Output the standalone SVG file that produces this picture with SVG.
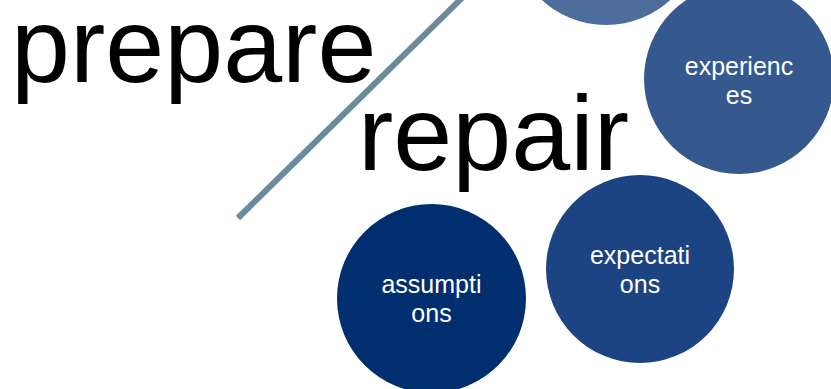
<svg xmlns="http://www.w3.org/2000/svg" width="831" height="389" viewBox="0 0 831 389">
<style>
.big{font-family:"Liberation Sans",Arial,sans-serif;font-size:106px;fill:#000}
.lbl{font-family:"Liberation Sans",Arial,sans-serif;font-size:25px;fill:#ffffff;text-anchor:middle}
</style>
<rect width="831" height="389" fill="#ffffff"/>
<g id="title-prepare"><text class="big" x="11" y="82">prepare</text></g>
<g id="title-repair"><text class="big" x="358" y="170">repair</text></g>
<g id="connectors"><line x1="238" y1="218" x2="464" y2="-4" stroke="#6a8b9c" stroke-width="6"/></g>
<g id="node-top"><circle cx="606" cy="-70" r="95" fill="#4d6d9c"/></g>
<g id="node-experiences"><circle cx="739" cy="79" r="95" fill="#35598f"/><text class="lbl" x="739" y="75">experienc</text><text class="lbl" x="739" y="104">es</text></g>
<g id="node-expectations"><circle cx="640" cy="269" r="94" fill="#1c4482"/><text class="lbl" x="640" y="264">expectati</text><text class="lbl" x="640" y="293">ons</text></g>
<g id="node-assumptions"><circle cx="431.5" cy="298.5" r="94.5" fill="#002e6f"/><text class="lbl" x="431.5" y="293">assumpti</text><text class="lbl" x="431.5" y="322">ons</text></g>
</svg>
